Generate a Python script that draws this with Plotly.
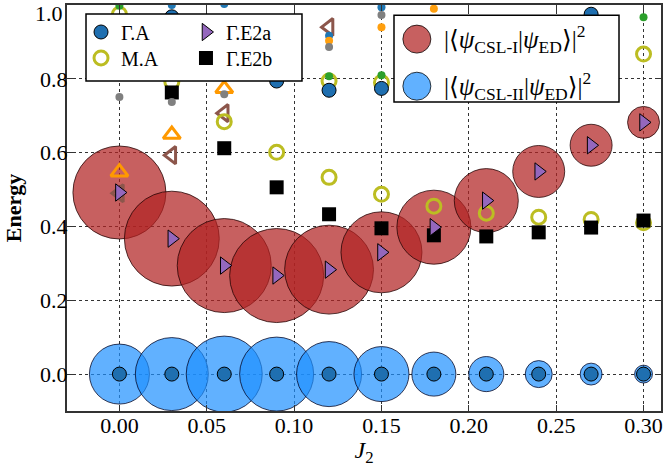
import plotly.graph_objects as go

# ---------------- data ----------------
J2 = [0.00, 0.03, 0.06, 0.09, 0.12, 0.15, 0.18, 0.21, 0.24, 0.27, 0.30]

# Gamma.E2a energies (purple right triangles) -- also the CSL-I overlap positions
E2a_y = [0.492, 0.367, 0.294, 0.267, 0.283, 0.330, 0.398, 0.470, 0.549, 0.620, 0.682]

# Gamma.E2b energies (black squares)
E2b_x = [0.03, 0.06, 0.09, 0.12, 0.15, 0.18, 0.21, 0.24, 0.27, 0.30]
E2b_y = [0.763, 0.612, 0.506, 0.433, 0.395, 0.376, 0.373, 0.384, 0.397, 0.416]

# M.A energies (open yellow-green circles)
MA_x = [0.00, 0.03, 0.06, 0.09, 0.12, 0.12, 0.15, 0.15, 0.18, 0.21, 0.24, 0.27, 0.30, 0.30]
MA_y = [0.975, 0.792, 0.684, 0.601, 0.533, 0.794, 0.487, 0.790, 0.455, 0.436, 0.425, 0.419, 0.410, 0.867]

# Gamma.A energies (blue filled circles)
GA_x = [0.00, 0.03, 0.03, 0.06, 0.09, 0.09, 0.12, 0.12, 0.15, 0.15, 0.18, 0.21, 0.24, 0.27, 0.27, 0.30]
GA_y = [0.0, 0.0, 0.968, 0.0, 0.0, 0.794, 0.0, 0.769, 0.0, 0.774, 0.0, 0.0, 0.0, 0.0, 0.975, 0.0]

# other levels (not in legend)
orange_tri_x = [0.00, 0.03, 0.06]
orange_tri_y = [0.547, 0.649, 0.773]
brown_tri_x = [0.00, 0.03, 0.06, 0.12]
brown_tri_y = [0.490, 0.593, 0.707, 0.940]

dot_green_x = [0.00, 0.12, 0.15, 0.30]
dot_green_y = [0.998, 0.807, 0.810, 0.967]
dot_gray_x = [0.00, 0.03, 0.06, 0.12, 0.15]
dot_gray_y = [0.751, 0.737, 0.758, 0.886, 0.973]
dot_orange_x = [0.12, 0.15, 0.18]
dot_orange_y = [0.903, 0.940, 0.990]
dot_blue_x = [0.03, 0.06, 0.12, 0.15]
dot_blue_y = [1.000, 1.003, 0.917, 0.994]

# overlaps |<psi_CSL|psi_ED>|^2
overlap_I = [0.865, 0.90, 0.884, 0.884, 0.79, 0.656, 0.548, 0.41, 0.27, 0.176, 0.102]
overlap_II = [0.36, 0.533, 0.578, 0.548, 0.423, 0.303, 0.194, 0.123, 0.073, 0.048, 0.032]
ground_y = [0.0] * len(J2)

x_ticks = [0.00, 0.05, 0.10, 0.15, 0.20, 0.25, 0.30]
y_ticks = [0.0, 0.2, 0.4, 0.6, 0.8, 1.0]

# ---------------- styling ----------------
FONT = "Liberation Serif, DejaVu Serif, serif"
RED = "rgba(178,34,34,0.72)"
BLUE = "rgba(30,144,255,0.70)"
BUBBLE_SCALE = 100.0  # px diameter for overlap 1 (area proportional to overlap)

def bubble_sizes(vals):
    return [BUBBLE_SCALE * v ** 0.5 for v in vals]

fig = go.Figure()

fig.add_trace(go.Scatter(x=J2, y=E2a_y, mode="markers", showlegend=False,
                         marker=dict(size=bubble_sizes(overlap_I), color=RED, opacity=1,
                                     line=dict(color="rgba(30,0,0,0.75)", width=1))))
fig.add_trace(go.Scatter(x=J2, y=ground_y, mode="markers", showlegend=False,
                         marker=dict(size=bubble_sizes(overlap_II), color=BLUE, opacity=1,
                                     line=dict(color="rgba(0,0,30,0.75)", width=1))))

fig.add_trace(go.Scatter(x=orange_tri_x, y=orange_tri_y, mode="markers", showlegend=False,
                         marker=dict(symbol="triangle-up-open", size=15, color="#ff9900",
                                     line=dict(width=3, color="#ff9900"))))
fig.add_trace(go.Scatter(x=brown_tri_x, y=brown_tri_y, mode="markers", showlegend=False,
                         marker=dict(symbol="triangle-left-open", size=15, color="#8c564b",
                                     line=dict(width=3, color="#8c564b"))))

fig.add_trace(go.Scatter(x=MA_x, y=MA_y, mode="markers", name="M.A", legend="legend2",
                         marker=dict(symbol="circle-open", size=14, color="#bcbd22",
                                     line=dict(width=3, color="#bcbd22"))))
fig.add_trace(go.Scatter(x=E2b_x, y=E2b_y, mode="markers", name="Γ.E2b", legend="legend4",
                         marker=dict(symbol="square", size=14, color="black",
                                     line=dict(width=0))))
fig.add_trace(go.Scatter(x=J2, y=E2a_y, mode="markers", name="Γ.E2a", legend="legend3",
                         marker=dict(symbol="triangle-right", size=15, color="#9467bd",
                                     line=dict(width=1, color="black"))))

for xs, ys, col in [(dot_blue_x, dot_blue_y, "#1f77b4"), (dot_orange_x, dot_orange_y, "#ff9f0e"),
                    (dot_gray_x, dot_gray_y, "#808080"), (dot_green_x, dot_green_y, "#2ca02c")]:
    fig.add_trace(go.Scatter(x=xs, y=ys, mode="markers", showlegend=False,
                             marker=dict(size=8, color=col, line=dict(width=0))))

fig.add_trace(go.Scatter(x=GA_x, y=GA_y, mode="markers", name="Γ.A", legend="legend",
                         marker=dict(symbol="circle", size=14, color="#1f6fb0",
                                     line=dict(width=1, color="black"))))

axis_common = dict(showline=True, linecolor="#333333", linewidth=2, mirror="ticks",
                   ticks="inside", ticklen=6, tickwidth=1, tickcolor="#333333",
                   showgrid=True, gridcolor="#333333", griddash="dot", gridwidth=1,
                   zeroline=False, automargin=False,
                   tickfont=dict(family=FONT, size=22, color="black"))

fig.update_xaxes(range=[-0.03, 0.31], tickvals=x_ticks,
                 ticktext=[f"{v:.2f}" for v in x_ticks], ticklabelstandoff=-6,
                 title=dict(text="<i>J</i><sub>2</sub>", font=dict(family=FONT, size=24, color="black"),
                            standoff=0),
                 **axis_common)
fig.update_yaxes(range=[-0.1, 1.0], tickvals=y_ticks,
                 ticktext=[f"{v:.1f}" if v < 1.0 else "" for v in y_ticks],
                 ticklabelstandoff=-7,
                 title=dict(text="<b>Energy</b>", font=dict(family=FONT, size=22, color="black"),
                            standoff=12),
                 **axis_common)

# legend boxes (layout decorations)
shapes = [
    dict(type="rect", xref="paper", yref="paper", x0=0.032, x1=0.3956, y0=0.8128, y1=0.9778,
         fillcolor="white", line=dict(color="black", width=1.5), layer="above"),
    dict(type="rect", xref="paper", yref="paper", x0=0.5505, x1=0.9293, y0=0.761, y1=0.975,
         fillcolor="white", line=dict(color="black", width=1.5), layer="above"),
]
cx, rx, ry = 0.589, 14 / 594, 14 / 406
labels = [("|⟨<i>ψ</i><sub>CSL-I</sub>|<i>ψ</i><sub>ED</sub>⟩|<sup>2</sup>", 0.916, RED),
          ("|⟨<i>ψ</i><sub>CSL-II</sub>|<i>ψ</i><sub>ED</sub>⟩|<sup>2</sup>", 0.800, BLUE)]
annotations = []
for txt, cy, col in labels:
    shapes.append(dict(type="circle", xref="paper", yref="paper", x0=cx - rx, x1=cx + rx,
                       y0=cy - ry, y1=cy + ry, fillcolor=col,
                       line=dict(color="rgba(0,0,0,0.75)", width=1), layer="above"))
    annotations.append(dict(xref="paper", yref="paper", x=0.632, y=cy, xanchor="left",
                            yanchor="middle", text=txt, showarrow=False,
                            font=dict(family=FONT, size=25, color="black")))
annotations.append(dict(xref="paper", yref="y", x=0, y=1.0, xanchor="right", yanchor="middle",
                        xshift=-2, yshift=-8, text="1.0", showarrow=False,
                        font=dict(family=FONT, size=22, color="black")))

leg_common = dict(yanchor="middle", xanchor="left", orientation="v",
                  font=dict(family=FONT, size=20, color="black"),
                  bgcolor="rgba(0,0,0,0)", borderwidth=0)
col1, col2 = 0.0236, 0.2003
row1, row2 = 0.9335, 0.8695
fig.update_layout(
    width=664, height=467,
    margin=dict(l=67, r=3, t=5, b=56, autoexpand=False),
    plot_bgcolor="white", paper_bgcolor="white",
    shapes=shapes, annotations=annotations,
    legend=dict(x=col1, y=row1, **leg_common),
    legend2=dict(x=col1, y=row2, **leg_common),
    legend3=dict(x=col2, y=row1, **leg_common),
    legend4=dict(x=col2, y=row2, **leg_common),
)

fig.write_html("out.html", config={"displayModeBar": False},
               post_script="document.body.style.margin='0px';")
